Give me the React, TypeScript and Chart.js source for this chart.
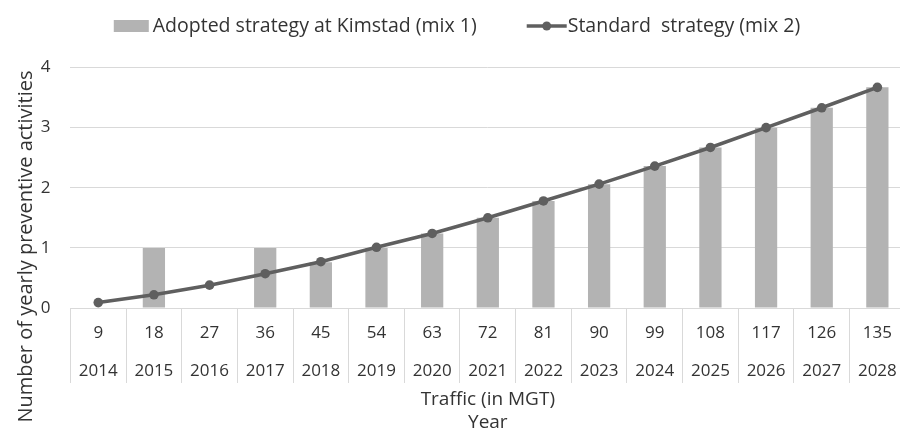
import React, { useEffect, useRef } from "react";
import { Chart, registerables } from "chart.js";

Chart.register(...registerables);

// ---------- data ----------
const traffic = ["9", "18", "27", "36", "45", "54", "63", "72", "81", "90", "99", "108", "117", "126", "135"];
const years = ["2014", "2015", "2016", "2017", "2018", "2019", "2020", "2021", "2022", "2023", "2024", "2025", "2026", "2027", "2028"];
const adopted = [0, 1, 0, 1, 0.76, 1.0, 1.24, 1.5, 1.78, 2.06, 2.36, 2.67, 3.0, 3.33, 3.67];
const standard = [0.09, 0.22, 0.38, 0.57, 0.77, 1.01, 1.24, 1.5, 1.78, 2.06, 2.36, 2.67, 3.0, 3.33, 3.67];
const seriesNames = ["Adopted strategy at Kimstad (mix 1)", "Standard  strategy (mix 2)"];
const xTitle = ["Traffic (in MGT)", "Year"];
const yTitle = "Number of yearly preventive activities";
const yMin = 0;
const yMax = 4;
const yStep = 1;

// ---------- styles ----------
const FONT = "'Open Sans', 'Liberation Sans', sans-serif";
const TEXT = "#333333";
const BAR = "#b3b3b3";
const LINE = "#5f5f5f";
const GRID = "#d9d9d9";

const overlayPlugin = {
  id: "overlay",
  afterDraw(chart: any) {
    const ctx = chart.ctx as CanvasRenderingContext2D;
    const ds = chart.data.datasets;
    ctx.save();
    // legend
    ctx.font = `19.5px ${FONT}`;
    ctx.textBaseline = "middle";
    ctx.textAlign = "left";
    const boxW = 35, lineW = 40, gap1 = 4, gap2 = 1, spacing = 50;
    const w1 = ctx.measureText(ds[0].label).width;
    const w2 = ctx.measureText(ds[1].label).width;
    const total = boxW + gap1 + w1 + spacing + lineW + gap2 + w2;
    let x = 457 - total / 2;
    const y = 26;
    ctx.fillStyle = ds[0].backgroundColor;
    ctx.fillRect(x, y - 6, boxW, 12);
    x += boxW + gap1;
    ctx.fillStyle = TEXT;
    ctx.fillText(ds[0].label, x, y);
    x += w1 + spacing;
    ctx.strokeStyle = ds[1].borderColor;
    ctx.lineWidth = 3.5;
    ctx.beginPath();
    ctx.moveTo(x, y);
    ctx.lineTo(x + lineW, y);
    ctx.stroke();
    ctx.fillStyle = ds[1].borderColor;
    ctx.beginPath();
    ctx.arc(x + lineW / 2, y, 4.5, 0, Math.PI * 2);
    ctx.fill();
    x += lineW + gap2;
    ctx.fillStyle = TEXT;
    ctx.fillText(ds[1].label, x, y);
    // y title
    ctx.font = `20px ${FONT}`;
    ctx.translate(26, 246.5);
    ctx.rotate(-Math.PI / 2);
    ctx.textAlign = "center";
    ctx.fillText(yTitle, 0, 0);
    ctx.restore();
  },
};

export default function App() {
  const ref = useRef<HTMLCanvasElement | null>(null);

  useEffect(() => {
    if (!ref.current) return;
    const labels = traffic.map((t, i) => [t, years[i]]);
    const chart = new Chart(ref.current, {
      type: "bar",
      data: {
        labels,
        datasets: [
          {
            type: "bar",
            label: seriesNames[0],
            data: adopted,
            backgroundColor: BAR,
            borderWidth: 0,
            barPercentage: 0.4,
            categoryPercentage: 1,
            order: 2,
          } as any,
          {
            type: "line",
            label: seriesNames[1],
            data: standard,
            borderColor: LINE,
            backgroundColor: LINE,
            borderWidth: 3.6,
            pointRadius: 4.8,
            pointBackgroundColor: LINE,
            pointBorderColor: LINE,
            pointBorderWidth: 0,
            tension: 0,
            order: 1,
          } as any,
        ],
      },
      options: {
        responsive: false,
        animation: false,
        layout: { padding: { left: 20.7, right: 1.4, top: 67.5, bottom: 0 } },
        plugins: {
          legend: { display: false },
          tooltip: { enabled: false },
        },
        scales: {
          x: {
            offset: true,
            grid: {
              offset: true,
              drawOnChartArea: false,
              drawTicks: true,
              tickLength: 75,
              color: GRID,
              lineWidth: 1,
            },
            border: { display: true, color: GRID, width: 1 },
            ticks: {
              padding: -69,
              color: TEXT,
              maxRotation: 0,
              autoSkip: false,
              font: { family: FONT, size: 17, lineHeight: 38 / 17 },
            },
            title: {
              display: true,
              text: xTitle,
              color: TEXT,
              font: { family: FONT, size: 19, lineHeight: 23 / 19 },
              padding: { top: 67.5, bottom: 1.5 },
            },
          },
          y: {
            min: yMin,
            max: yMax,
            ticks: {
              stepSize: yStep,
              padding: 20,
              color: TEXT,
              font: { family: FONT, size: 17 },
            },
            grid: { color: GRID, drawTicks: false, lineWidth: 1 },
            border: { display: false },
          },
        },
      },
      plugins: [overlayPlugin],
    });
    return () => chart.destroy();
  }, []);

  return (
    <div
      style={{
        position: "fixed",
        left: 0,
        top: 0,
        width: 900,
        height: 436,
        overflow: "hidden",
        background: "#ffffff",
      }}
    >
      <canvas ref={ref} width={910} height={436} style={{ display: "block" }} />
    </div>
  );
}
